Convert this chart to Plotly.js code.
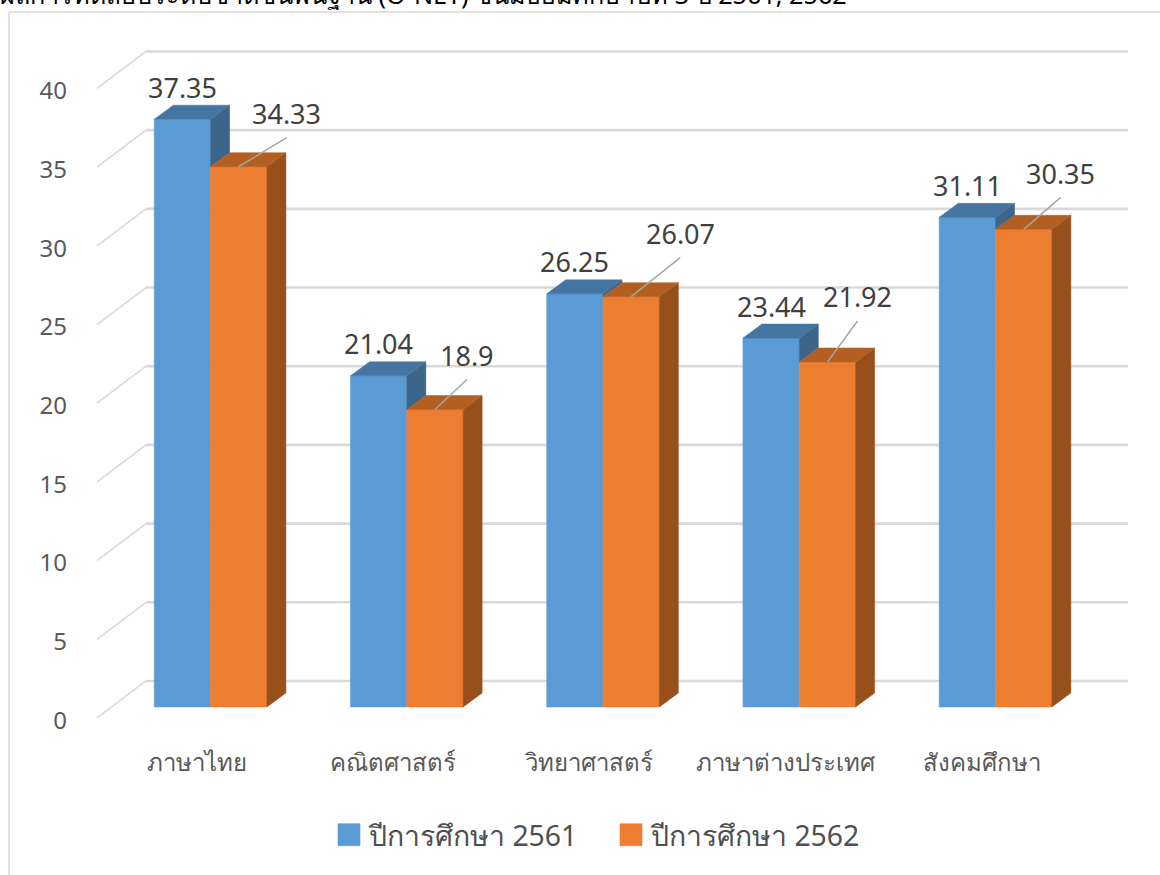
<!DOCTYPE html>
<html><head><meta charset="utf-8">
<script src="https://cdn.plot.ly/plotly-3.0.1.min.js"></script>
<style>html,body{margin:0;padding:0;background:#fff}#c{width:1160px;height:875px}</style></head>
<body><div id="c"></div>
<script>
const categories = ['ภาษาไทย','คณิตศาสตร์','วิทยาศาสตร์','ภาษาต่างประเทศ','สังคมศึกษา'];
const series2561 = [37.35, 21.04, 26.25, 23.44, 31.11];
const series2562 = [34.33, 18.9, 26.07, 21.92, 30.35];
const name2561 = 'ปีการศึกษา 2561';
const name2562 = 'ปีการศึกษา 2562';
const gridValues = [0,5,10,15,20,25,30,35,40];

const FONT = '"Noto Sans", sans-serif';
const W=1160,H=875,mL=75,mR=0,mT=20,mB=135;
const xRange=[-0.691,4.838], yRange=[-2.10,43.65];
const barW=0.287, barDx=0.0968, barDy=0.889;
const wallX0=-0.579, wallX1=-0.329, wallX2=4.675, wallFront=-0.70, wallBack=1.65;
const labelShiftX=-0.07, tickShiftY=-0.85;
const leaderOffsets=[[48,29],[32,30],[49,39],[30,41],[37,32]];
const labelAboveLeader=24;

function sidePoly(i,vals,x0,lowVals){
  const v=vals[i], low=lowVals?lowVals[i]:0, dx=barDx, dy=barDy;
  return {x:[x0,x0+dx,x0+dx,x0,x0,null], y:[v,v+dy,low+dy,low,v,null]};
}
function topPoly(i,vals,x0){
  const v=vals[i];
  return {x:[x0,x0+barW,x0+barW+barDx,x0+barDx,x0,null], y:[v,v,v+barDy,v+barDy,v,null]};
}
function faceTrace(polys,color){
  const x=[],y=[];
  polys.forEach(p=>{x.push(...p.x);y.push(...p.y)});
  return {type:'scatter',mode:'lines',x,y,fill:'toself',fillcolor:color,
    line:{width:0.5,color},showlegend:false,hoverinfo:'skip'};
}
const idx=categories.map((_,i)=>i);
const traces=[
  {type:'bar',name:name2561,x:idx,y:series2561,marker:{color:'#5B9BD5',line:{color:'#5B9BD5',width:0.6}}},
  {type:'bar',name:name2562,x:idx,y:series2562,marker:{color:'#ED7D31',line:{color:'#ED7D31',width:0.6}}},
  faceTrace(idx.map(i=>sidePoly(i,series2561,i,series2562)),'#3B6589'),
  faceTrace(idx.map(i=>topPoly(i,series2561,i-barW)),'#4575A1'),
  faceTrace(idx.map(i=>sidePoly(i,series2562,i+barW)),'#97501B'),
  faceTrace(idx.map(i=>topPoly(i,series2562,i)),'#B35F22')
];

const GRID='#D9D9D9';
const shapes=[];
gridValues.forEach(v=>{
  shapes.push({type:'line',xref:'x',yref:'y',layer:'below',x0:wallX1,x1:wallX2,y0:v+wallBack,y1:v+wallBack,line:{color:GRID,width:2.6}});
  shapes.push({type:'line',xref:'x',yref:'y',layer:'below',x0:wallX0,x1:wallX1,y0:v+wallFront,y1:v+wallBack,line:{color:GRID,width:1.6}});
});
const pw=W-mL-mR, ph=H-mT-mB;
const px=a=>(a-mL)/pw, py=a=>1-(a-mT)/ph;
shapes.push({type:'line',xref:'paper',yref:'paper',layer:'below',x0:px(9),x1:px(1160),y0:py(12),y1:py(12),line:{color:GRID,width:1.5}});
shapes.push({type:'line',xref:'paper',yref:'paper',layer:'below',x0:px(9),x1:px(9),y0:py(12),y1:py(875),line:{color:GRID,width:1.5}});

const annotations=[];
const labelFont={family:FONT,size:27,color:'#404040'};
idx.forEach(i=>{
  const [lx,ly]=leaderOffsets[i];
  annotations.push({x:i-barW/2,y:series2561[i],xref:'x',yref:'y',text:String(series2561[i]),showarrow:false,yshift:32,font:labelFont});
  annotations.push({x:i+barW/2,y:series2562[i],xref:'x',yref:'y',text:String(series2562[i]),showarrow:false,xshift:lx,yshift:ly+labelAboveLeader,font:labelFont});
  shapes.push({type:'line',xref:'x',yref:'y',xsizemode:'pixel',ysizemode:'pixel',xanchor:i+barW/2,yanchor:series2562[i],
    x0:0,y0:0,x1:lx,y1:ly,layer:'above',line:{color:'#A6A6A6',width:1.5}});
});

const layout={
  width:W,height:H,margin:{l:mL,r:mR,t:mT,b:mB,pad:0},paper_bgcolor:'#fff',plot_bgcolor:'rgba(0,0,0,0)',
  barmode:'group',bargap:1-2*barW,bargroupgap:0,
  hovermode:false,
  font:{family:FONT,color:'#595959'},
  xaxis:{range:xRange,tickmode:'array',tickvals:idx.map(i=>i+labelShiftX),ticktext:categories,showgrid:false,zeroline:false,showline:false,ticks:'',
    tickfont:{family:FONT,size:24,color:'#595959'},tickangle:0,fixedrange:true,ticklabelstandoff:6},
  yaxis:{range:yRange,tickmode:'array',tickvals:gridValues.map(v=>v+tickShiftY),ticktext:gridValues.map(String),showgrid:false,zeroline:false,showline:false,ticks:'',
    tickfont:{family:FONT,size:24,color:'#595959'},fixedrange:true,ticklen:0,automargin:false,ticklabelstandoff:7},
  legend:{orientation:'h',x:px(329),xanchor:'left',y:-0.0969,yanchor:'top',font:{family:FONT,size:28.4,color:'#505050'},bgcolor:'rgba(0,0,0,0)',traceorder:'normal',
    entrywidth:237,entrywidthmode:'pixels'},
  shapes,annotations,
  title:{text:'ผลการทดสอบระดับชาติขั้นพื้นฐาน (O-NET) ชั้นมัธยมศึกษาปีที่ 3 ปี 2561, 2562',font:{family:FONT,size:25.2,color:'#000'},x:0,xanchor:'left',y:0.995,yanchor:'bottom',xref:'container',yref:'container',pad:{l:0}}
};
function fixLegend(){
  document.querySelectorAll('.legend .legendpoints path').forEach(p=>{p.setAttribute('d','M11,11H-11V-11H11Z');});
}
Plotly.newPlot('c',traces,layout,{displayModeBar:false,staticPlot:true}).then(fixLegend);
</script></body></html>
